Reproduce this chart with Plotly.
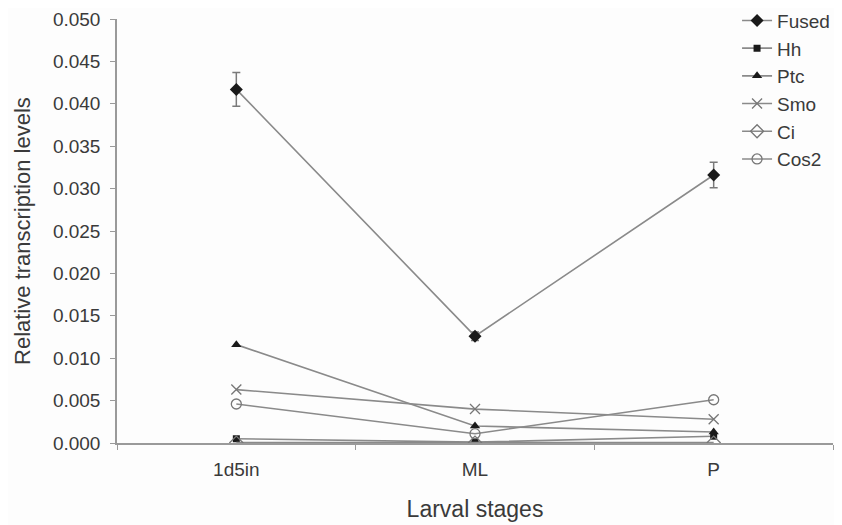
import plotly.graph_objects as go

stages = ["1d5in", "ML", "P"]
fused = [0.0417, 0.0126, 0.0316]
fused_err = [0.0020, 0.0005, 0.0015]
hh = [0.0005, 0.0001, 0.0008]
ptc = [0.0116, 0.0020, 0.0013]
smo = [0.0063, 0.0040, 0.0028]
ci = [0.00005, 0.00005, 0.00005]
cos2 = [0.0046, 0.0011, 0.0051]
y_ticks = [0.000, 0.005, 0.010, 0.015, 0.020, 0.025, 0.030, 0.035, 0.040, 0.045, 0.050]

LINE = "#8a8a8a"
DARK = "#1a1a1a"
TXT = "#3a3a3a"

series = [
    ("Fused", fused, dict(symbol="diamond", size=10, color=DARK, line=dict(width=0))),
    ("Hh", hh, dict(symbol="square", size=7, color=DARK, line=dict(width=0))),
    ("Ptc", ptc, dict(symbol="triangle-up", size=9, color=DARK, line=dict(width=0))),
    ("Smo", smo, dict(symbol="x-thin", size=10, color=LINE, line=dict(width=1.3, color="#777777"))),
    ("Ci", ci, dict(symbol="diamond-open", size=10, color="#777777", line=dict(width=1.3))),
    ("Cos2", cos2, dict(symbol="circle-open", size=10, color="#777777", line=dict(width=1.3))),
]

fig = go.Figure()
for i, (name, vals, mk) in enumerate(series):
    kw = {}
    if name == "Fused":
        kw["error_y"] = dict(type="data", array=fused_err, visible=True,
                             color="#7a7a7a", thickness=1.5, width=4)
    fig.add_trace(go.Scatter(
        x=stages, y=vals, name=name, mode="lines+markers",
        line=dict(color=LINE, width=1.6), marker=mk,
        legendgroup=f"g{i}", **kw))

fig.add_annotation(
    text="Relative transcription levels", textangle=-90,
    xref="paper", yref="paper", x=-0.1327, y=0.5,
    xanchor="center", yanchor="middle", showarrow=False,
    font=dict(size=22, color=TXT),
)

fig.update_layout(
    width=842, height=525,
    margin=dict(l=109, r=17, t=11, b=90, autoexpand=False),
    paper_bgcolor="#fdfdfd", plot_bgcolor="#fdfdfd",
    font=dict(family="Liberation Sans, Arial, sans-serif", size=19, color=TXT),
    showlegend=True,
    legend=dict(x=0.866, y=1.041, xanchor="left", yanchor="top",
                bgcolor="rgba(0,0,0,0)", font=dict(size=19, color=TXT),
                tracegroupgap=0, itemwidth=30),
    xaxis=dict(
        type="category", range=[-0.5, 2.5], automargin=False,
        showline=True, linecolor="#9a9a9a", linewidth=1.5,
        ticks="outside", tickson="boundaries", ticklen=5, tickcolor="#9a9a9a",
        ticklabelstandoff=8,
        showgrid=False, zeroline=False,
        title=dict(text="Larval stages", font=dict(size=23, color=TXT), standoff=22),
        tickfont=dict(size=19, color=TXT),
    ),
    yaxis=dict(
        range=[0, 0.05], tickvals=y_ticks, tickformat=".3f", automargin=False,
        showline=True, linecolor="#9a9a9a", linewidth=1.5,
        ticks="outside", ticklen=5, tickcolor="#9a9a9a", ticklabelstandoff=6,
        showgrid=False, zeroline=False,
        tickfont=dict(size=19, color=TXT),
    ),
)

fig.write_html("out.html")
